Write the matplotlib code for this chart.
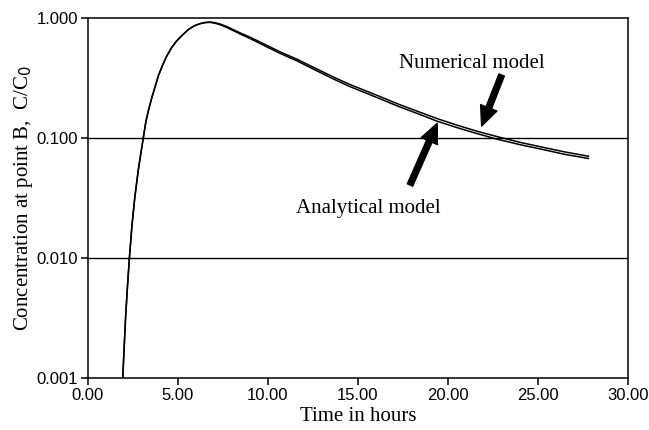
import numpy as np
import matplotlib
matplotlib.use("Agg")
import matplotlib.pyplot as plt
from matplotlib.ticker import FixedLocator, FormatStrFormatter

# values
t_hours = [1.93, 2.01, 2.09, 2.19, 2.30, 2.44, 2.60, 2.80, 3.07, 3.22, 3.38, 3.54, 3.72, 3.91,
           4.13, 4.37, 4.64, 4.93, 5.24, 5.57, 5.90, 6.22, 6.50, 6.78, 7.05, 7.33, 7.70,
           8.07, 8.50, 9.00, 9.45, 9.93, 10.7, 11.6, 12.6, 13.6, 14.5, 15.5, 16.4, 17.3,
           18.3, 19.4, 20.5, 21.6, 22.7, 24.0, 25.3, 26.5, 27.8]
c_analytical = [0.001, 0.0018, 0.00324, 0.0057, 0.010, 0.0185, 0.032, 0.055, 0.100, 0.138, 0.175,
                0.215, 0.265, 0.33, 0.40, 0.48, 0.565, 0.645, 0.72, 0.80, 0.86, 0.897, 0.915,
                0.92, 0.905, 0.88, 0.835, 0.785, 0.73, 0.675, 0.625, 0.575, 0.505, 0.44, 0.37,
                0.312, 0.27, 0.235, 0.207, 0.182, 0.16, 0.138, 0.122, 0.109, 0.098, 0.088,
                0.080, 0.073, 0.0675]
c_numerical = [0.001, 0.0018, 0.00324, 0.0057, 0.010, 0.0185, 0.032, 0.055, 0.100, 0.138, 0.175,
               0.215, 0.265, 0.33, 0.40, 0.48, 0.565, 0.645, 0.72, 0.80, 0.86, 0.897, 0.918,
               0.925, 0.914, 0.892, 0.85, 0.80, 0.746, 0.692, 0.642, 0.592, 0.52, 0.454, 0.383,
               0.324, 0.281, 0.245, 0.216, 0.19, 0.167, 0.145, 0.128, 0.114, 0.103, 0.092,
               0.0835, 0.0765, 0.0705]

x_ticks = [0, 5, 10, 15, 20, 25, 30]
y_ticks = [0.001, 0.01, 0.1, 1.0]

fig = plt.figure(figsize=(6.49, 4.30), dpi=100)
ax = fig.add_axes([88/649, 1-378/430, 540/649, 360/430])

ax.plot(t_hours, c_analytical, color="black", lw=1.1)
ax.plot(t_hours, c_numerical, color="black", lw=1.1)

ax.set_yscale("log")
ax.set_xlim(0, 30)
ax.set_ylim(0.001, 1.0)
ax.xaxis.set_major_locator(FixedLocator(x_ticks))
ax.yaxis.set_major_locator(FixedLocator(y_ticks))
ax.yaxis.set_minor_locator(FixedLocator([]))
ax.xaxis.set_major_formatter(FormatStrFormatter("%.2f"))
ax.yaxis.set_major_formatter(FormatStrFormatter("%.3f"))

for yv in [0.01, 0.1]:
    ax.axhline(yv, color="black", lw=1.0, zorder=0.5)

for s in ax.spines.values():
    s.set_linewidth(1.1)
ax.tick_params(direction="out", length=5, width=1.1, labelsize=12, pad=2,
               top=False, right=False)
for lab in ax.get_xticklabels() + ax.get_yticklabels():
    lab.set_family(["Liberation Sans", "DejaVu Sans"])

serif = ["Liberation Serif", "DejaVu Serif"]
ax.set_xlabel("Time in hours", family=serif, fontsize=15, labelpad=3)
ax.set_ylabel("Concentration at point B,  C/C$_0$", family=serif, fontsize=15, labelpad=1)

arrow = dict(arrowstyle="simple,head_width=0.9,head_length=1.0,tail_width=0.3",
             color="black", mutation_scale=14, shrinkA=0, shrinkB=0)
ax.annotate("", xy=(21.87, 0.126), xytext=(22.98, 0.335), arrowprops=arrow)
ax.annotate("", xy=(19.4, 0.1326), xytext=(17.89, 0.0406), arrowprops=arrow)
ax.text(21.33, 0.414, "Numerical model", family=serif, fontsize=15, ha="center", va="center")
ax.text(15.56, 0.026, "Analytical model", family=serif, fontsize=15, ha="center", va="center")

fig.savefig("out.png", dpi=100)
